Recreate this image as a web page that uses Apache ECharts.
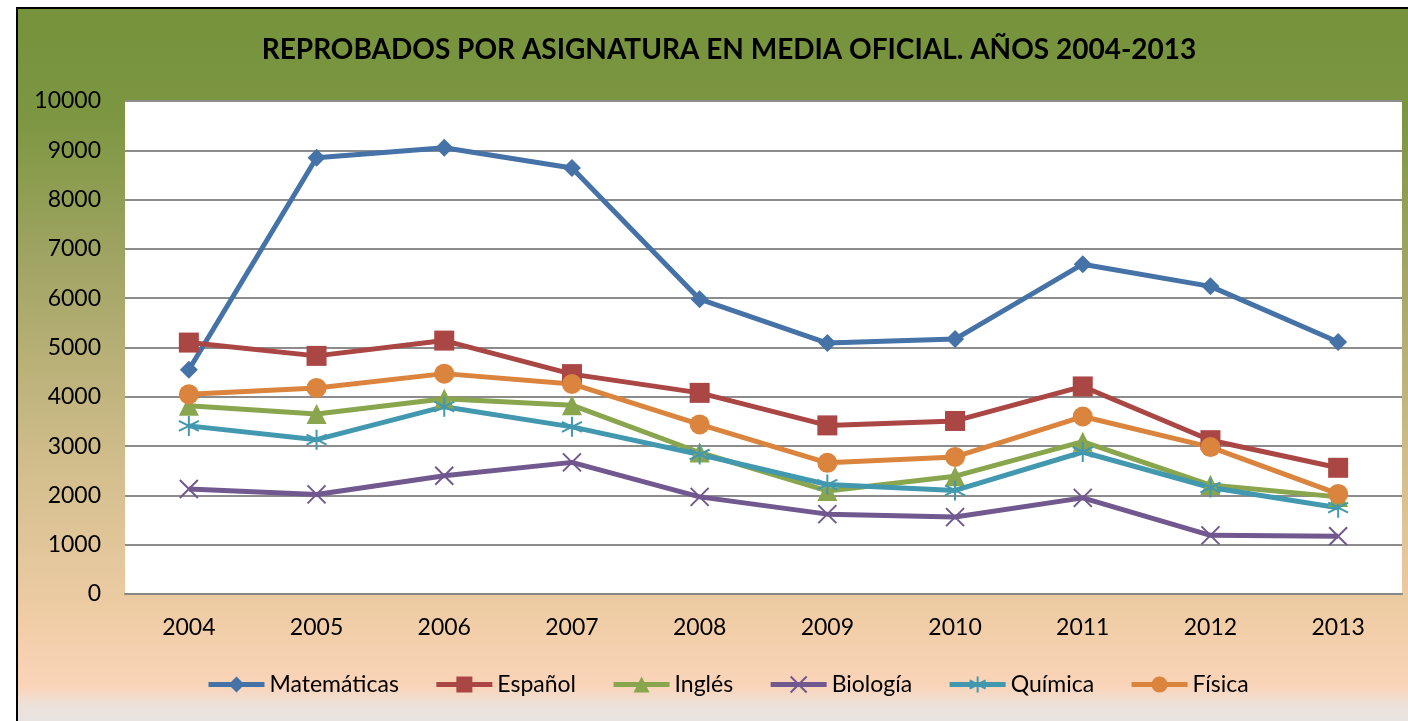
<!DOCTYPE html>
<html>
<head>
<meta charset="utf-8">
<script src="https://cdn.jsdelivr.net/npm/echarts@6/dist/echarts.min.js"></script>
<style>
  html, body { margin: 0; padding: 0; background: #fff; }
  #chart { width: 1408px; height: 721px; }
</style>
</head>
<body>
<div id="chart"></div>
<script>
const years = ['2004','2005','2006','2007','2008','2009','2010','2011','2012','2013']
const matematicas = [4550, 8850, 9050, 8640, 5980, 5090, 5170, 6690, 6240, 5110]
const espanol     = [5100, 4830, 5140, 4460, 4080, 3420, 3510, 4210, 3120, 2560]
const ingles      = [3820, 3650, 3960, 3830, 2870, 2090, 2390, 3090, 2210, 1970]
const biologia    = [2130, 2020, 2400, 2670, 1970, 1620, 1560, 1950, 1190, 1170]
const quimica     = [3410, 3130, 3800, 3390, 2830, 2220, 2100, 2880, 2160, 1750]
const fisica      = [4050, 4180, 4470, 4260, 3440, 2660, 2780, 3600, 2980, 2030]

const font = 'Lato, "Liberation Sans", sans-serif'

// marcadores en forma de X y asterisco
const xPath = 'path://M0,0 L10,10 M10,0 L0,10'
const starPath = 'path://M5,0 L5,10 M0.7,2.5 L9.3,7.5 M0.7,7.5 L9.3,2.5'

const makeLine = (name, data, color, symbol, size, stroke) => ({
    name,
    type: 'line',
    data,
    symbol,
    symbolSize: size,
    lineStyle: { color, width: 5 },
    itemStyle: stroke
        ? { color: 'rgba(0,0,0,0)', borderColor: color, borderWidth: 2 }
        : { color },
    emphasis: { disabled: true }
})

const chart = echarts.init(document.getElementById('chart'))
chart.setOption({
    animation: false,
    graphic: [{
        type: 'rect',
        z: -10,
        shape: { x: 17, y: 8, width: 1400, height: 720 },
        style: {
            fill: new echarts.graphic.LinearGradient(0, 0, 0, 1, [
                { offset: 0, color: '#76923b' },
                { offset: 0.15, color: '#7c9641' },
                { offset: 0.4, color: '#a9a86b' },
                { offset: 0.65, color: '#d4bf8e' },
                { offset: 0.85, color: '#f0cda6' },
                { offset: 0.94, color: '#fad4b8' },
                { offset: 0.97, color: '#ece2dc' },
                { offset: 1, color: '#e6e4e4' }
            ]),
            stroke: '#000',
            lineWidth: 2
        }
    }],
    title: {
        text: 'REPROBADOS POR ASIGNATURA EN MEDIA OFICIAL. AÑOS 2004-2013',
        left: 724,
        textAlign: 'center',
        top: 31,
        textStyle: { fontFamily: font, fontWeight: 'bold', fontSize: 28, color: '#000' }
    },
    legend: {
        bottom: 20,
        left: 201,
        itemWidth: 56,
        itemHeight: 20,
        itemGap: 35,
        lineStyle: { width: 5 },
        textStyle: { fontFamily: font, fontSize: 23, color: '#000' },
        data: ['Matemáticas','Español','Inglés','Biología','Química','Física']
    },
    grid: {
        left: 125, right: 6, top: 101, bottom: 127,
        show: true,
        backgroundColor: '#fff',
        borderWidth: 0
    },
    xAxis: {
        type: 'category',
        data: years,
        axisLine: { lineStyle: { color: '#888', width: 2 } },
        axisTick: { show: false },
        axisLabel: { fontFamily: font, fontSize: 23, color: '#000', margin: 22 }
    },
    yAxis: {
        type: 'value',
        min: 0,
        max: 10000,
        interval: 1000,
        axisLine: { show: false },
        axisTick: { show: false },
        splitLine: { lineStyle: { color: '#8c8c8c', width: 2 } },
        axisLabel: { fontFamily: font, fontSize: 23, color: '#000', margin: 24, formatter: v => String(v) }
    },
    series: [
        makeLine('Matemáticas', matematicas, '#4572a7', 'diamond', 18),
        makeLine('Español', espanol, '#aa4643', 'rect', 20),
        makeLine('Inglés', ingles, '#89a54e', 'triangle', 20),
        makeLine('Biología', biologia, '#71588f', xPath, 18, true),
        makeLine('Química', quimica, '#4198af', starPath, 20, true),
        makeLine('Física', fisica, '#db843d', 'circle', 20)
    ]
})
</script>
</body>
</html>
